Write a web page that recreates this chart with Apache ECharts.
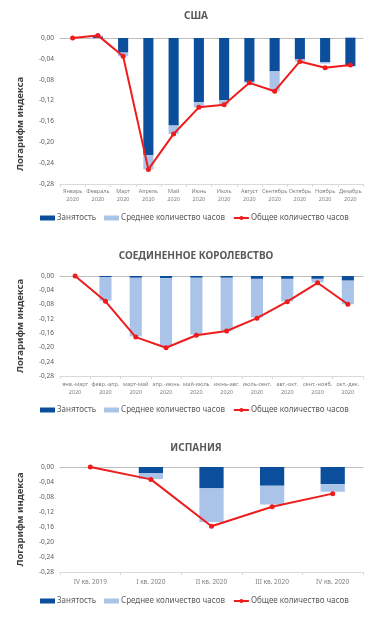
<!DOCTYPE html>
<html>
<head>
<meta charset="utf-8">
<script src="https://cdn.jsdelivr.net/npm/echarts@6/dist/echarts.min.js"></script>
<style>
html,body{margin:0;padding:0;background:#fff;}
#c{width:378px;height:619px;}
</style>
</head>
<body>
<div id="c"></div>
<script>
// ---- Data ----
const usaCategories = ['Январь\n2020','Февраль\n2020','Март\n2020','Апрель\n2020','Май\n2020','Июнь\n2020','Июль\n2020','Август\n2020','Сентябрь\n2020','Октябрь\n2020','Ноябрь\n2020','Декабрь\n2020'];
const usaEmployment = [0, 0.003, -0.028, -0.225, -0.168, -0.123, -0.119, -0.084, -0.064, -0.041, -0.046, -0.054];
const usaHours      = [0, 0.002, -0.007, -0.027, -0.016, -0.010, -0.008, -0.002, -0.038, -0.004, -0.003, 0.002];
const usaTotal      = [0, 0.005, -0.035, -0.252, -0.184, -0.133, -0.128, -0.086, -0.102, -0.045, -0.057, -0.052];

const ukCategories = ['янв.-март\n2020','февр.-апр.\n2020','март-май\n2020','апр.-июнь\n2020','май-июль\n2020','июнь-авг.\n2020','июль-сент.\n2020','авг.-окт.\n2020','сент.-нояб.\n2020','окт.-дек.\n2020'];
const ukEmployment = [0, -0.003, -0.005, -0.006, -0.005, -0.005, -0.008, -0.008, -0.008, -0.013];
const ukHours      = [0, -0.066, -0.164, -0.190, -0.159, -0.148, -0.108, -0.063, -0.010, -0.066];
const ukTotal      = [0, -0.071, -0.171, -0.201, -0.166, -0.154, -0.118, -0.072, -0.019, -0.079];

const esCategories = ['IV кв. 2019','I кв. 2020','II кв. 2020','III кв. 2020','IV кв. 2020'];
const esEmployment = [0, -0.016, -0.057, -0.050, -0.046];
const esHours      = [0, -0.016, -0.090, -0.050, -0.020];
const esTotal      = [0, -0.033, -0.158, -0.106, -0.071];

const titles = ['США', 'СОЕДИНЕННОЕ КОРОЛЕВСТВО', 'ИСПАНИЯ'];
const seriesNames = ['Занятость', 'Среднее количество часов', 'Общее количество часов'];
const yTicks = { min: -0.28, max: 0, interval: 0.04 };
const yAxisName = 'Логарифм индекса';

// ---- Styling ----
const DARK = '#0B4F9C', LIGHT = '#A9C4E8', RED = '#EE1C1C';
const FONT = 'Noto Sans';
const panels = [
  { cats: usaCategories, emp: usaEmployment, hrs: usaHours, tot: usaTotal, top: 38, height: 146, titleTop: 6, legendTop: 209, labelSize: 5.5, labelMargin: 3, namePad: [0, 26, 0, 0] },
  { cats: ukCategories, emp: ukEmployment, hrs: ukHours, tot: ukTotal, top: 276, height: 100, titleTop: 246, legendTop: 401, labelSize: 5.5, labelMargin: 4, namePad: [0, 0, 0, 0] },
  { cats: esCategories, emp: esEmployment, hrs: esHours, tot: esTotal, top: 467, height: 105, titleTop: 438, legendTop: 592, labelSize: 6.5, labelMargin: 6, namePad: [0, 0, 0, 0] }
];

const option = { animation: false, title: [], grid: [], xAxis: [], yAxis: [], legend: [], series: [] };

panels.forEach((p, i) => {
  option.title.push({ text: titles[i], left: 191, textAlign: 'center', top: p.titleTop,
    textStyle: { fontFamily: FONT, fontSize: 10, fontWeight: 'bold', color: '#595959' } });
  option.grid.push({ left: 60, width: 303, top: p.top, height: p.height });
  // bottom category axis with labels
  option.xAxis.push({ type: 'category', gridIndex: i, data: p.cats, position: 'bottom',
    axisLine: { onZero: false, lineStyle: { color: '#D9D9D9', width: 1 } },
    axisTick: { show: true, length: 3, lineStyle: { color: '#D9D9D9' } },
    axisLabel: { fontFamily: FONT, fontSize: p.labelSize, color: '#7F7F7F', margin: p.labelMargin, lineHeight: p.labelSize + 2.5, interval: 0 },
    splitLine: { show: false } });
  // zero line axis
  option.xAxis.push({ type: 'category', gridIndex: i, data: p.cats, position: 'bottom',
    axisLine: { onZero: true, lineStyle: { color: '#BFBFBF', width: 1 } },
    axisTick: { show: false }, axisLabel: { show: false }, splitLine: { show: false } });
  option.yAxis.push({ type: 'value', gridIndex: i, min: yTicks.min, max: yTicks.max, interval: yTicks.interval,
    name: yAxisName, nameLocation: 'middle', nameRotate: 90, nameGap: 35,
    nameTextStyle: { fontFamily: FONT, fontSize: 9.5, fontWeight: 'bold', color: '#404040', padding: p.namePad },
    axisLine: { show: false }, axisTick: { show: false }, splitLine: { show: false },
    axisLabel: { fontFamily: FONT, fontSize: 6.5, color: '#595959', margin: 6,
      formatter: v => v.toFixed(2).replace('.', ',') } });
  const xi = i * 2;
  option.series.push({ name: seriesNames[0], type: 'bar', xAxisIndex: xi, yAxisIndex: i, stack: 's' + i,
    data: p.emp, barWidth: '40%', itemStyle: { color: DARK }, clip: false });
  option.series.push({ name: seriesNames[1], type: 'bar', xAxisIndex: xi, yAxisIndex: i, stack: 's' + i,
    data: p.hrs, barWidth: '40%', itemStyle: { color: LIGHT }, clip: false });
  option.series.push({ name: seriesNames[2], type: 'line', xAxisIndex: xi, yAxisIndex: i,
    data: p.tot, symbol: 'circle', symbolSize: 5, clip: false, z: 5,
    lineStyle: { color: RED, width: 2 }, itemStyle: { color: RED } });
  option.legend.push({ top: p.legendTop, left: 35, orient: 'horizontal',
    itemWidth: 15, itemHeight: 5, itemGap: 8, selectedMode: false,
    textStyle: { fontFamily: FONT, fontSize: 8, color: '#595959', padding: [0, 0, 0, -3] },
    data: [ { name: seriesNames[0], icon: 'rect' }, { name: seriesNames[1], icon: 'rect' }, { name: seriesNames[2] } ] });
});

const chart = echarts.init(document.getElementById('c'), null, { renderer: 'canvas' });
chart.setOption(option);
</script>
</body>
</html>
